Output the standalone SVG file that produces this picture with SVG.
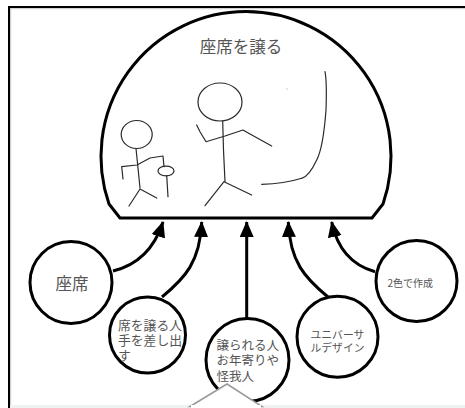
<svg xmlns="http://www.w3.org/2000/svg" width="465" height="408" viewBox="0 0 465 408">
  <style>
    .bold { fill: #fff; stroke: #000; stroke-width: 3; }
    .sketch { fill: none; stroke: #2a2a2a; stroke-width: 1.2; stroke-linecap: round; stroke-linejoin: round; }
    .edge { fill: none; stroke: #000; stroke-width: 3; }
    .lbl { font-family: "Noto Sans CJK JP", "Noto Sans", sans-serif; fill: #555; dominant-baseline: central; }
  </style>
  <defs>
    <marker id="ah" markerUnits="userSpaceOnUse" markerWidth="18" markerHeight="16" refX="15" refY="7" orient="auto">
      <path d="M0,0 L16,7 L0,14 Z" fill="#000"/>
    </marker>
  </defs>

  <rect width="465" height="408" fill="#fff"/>

  <!-- outer frame -->
  <g id="frame">
    <line x1="10.5" y1="8.7" x2="465" y2="8.7" stroke="#c8c8c8" stroke-width="1"/>
    <line x1="10.7" y1="8" x2="10.7" y2="408" stroke="#c8c8c8" stroke-width="1"/>
    <line x1="8" y1="7" x2="465" y2="7" stroke="#000" stroke-width="2"/>
    <line x1="9" y1="6" x2="9" y2="408" stroke="#000" stroke-width="2"/>
  </g>

  <!-- main dome with the sketch -->
  <g id="dome">
    <path class="bold" d="M120,218 L109,204 A145 145 0 1 1 383,204 L372,218 Z"/>
    <text class="lbl" x="241" y="46" font-size="16.5" text-anchor="middle">座席を譲る</text>
    <!-- standing figure -->
    <ellipse class="sketch" cx="220" cy="102" rx="22" ry="19"/>
    <path class="sketch" d="M222.7,121 L223.5,150 L225,181.7"/>
    <path class="sketch" d="M196.7,125 L200,131.7 L206,141.7 L225,136 L243,130 L250,134 L271.7,146"/>
    <path class="sketch" d="M205,205.7 L224,181.7 L251.7,195"/>
    <!-- small figure -->
    <ellipse class="sketch" cx="136.7" cy="134.5" rx="15.5" ry="14"/>
    <path class="sketch" d="M136,148.5 L138,168 L140,188"/>
    <path class="sketch" d="M123,179 L121.7,166.7 L137,165 L150,158 L163,156 L164,166.7"/>
    <ellipse class="sketch" cx="166" cy="171" rx="8" ry="4.8"/>
    <path class="sketch" d="M166.7,175.5 L168,196.7"/>
    <path class="sketch" d="M129,206 L140,189 L156.7,198"/>
    <!-- seat line -->
    <path class="sketch" d="M325,71.7 C327,82 326.5,95 326,110 C324.5,130 322,150 316.7,160 C312,170 307,177 301.7,178.3 C290,182 275,184 261.7,184.3"/>
    <circle cx="287" cy="89" r="0.7" fill="#bbb"/>
  </g>

  <!-- connectors -->
  <g id="connectors">
    <path class="edge" marker-end="url(#ah)" d="M113,271 Q150,262 163,222"/>
    <path class="edge" marker-end="url(#ah)" d="M162,297 C185,278 200,262 201.7,222"/>
    <path class="edge" marker-end="url(#ah)" d="M246.7,318 L246.7,222"/>
    <path class="edge" marker-end="url(#ah)" d="M328,297 C305,278 290,262 288.3,222"/>
    <path class="edge" marker-end="url(#ah)" d="M375,271.7 Q340,262 331.7,222"/>
  </g>

  <g id="node-seat">
    <circle class="bold" cx="71" cy="282.5" r="41"/>
    <text class="lbl" x="72" y="283.3" font-size="16.5" text-anchor="middle">座席</text>
  </g>

  <g id="node-giver">
    <circle class="bold" cx="147.5" cy="335" r="38"/>
    <text class="lbl" font-size="12.8">
      <tspan x="118" y="324">席を譲る人</tspan>
      <tspan x="118" y="339">手を差し出</tspan>
      <tspan x="118" y="353.5">す</tspan>
    </text>
  </g>

  <g id="node-receiver">
    <circle class="bold" cx="247.5" cy="360" r="41.5"/>
    <text class="lbl" font-size="12.5">
      <tspan x="216.5" y="343.5">譲られる人</tspan>
      <tspan x="216.5" y="359.3">お年寄りや</tspan>
      <tspan x="216.5" y="375">怪我人</tspan>
    </text>
  </g>

  <g id="node-universal">
    <circle class="bold" cx="337.5" cy="336.7" r="40.5"/>
    <text class="lbl" font-size="10.8">
      <tspan x="310.5" y="333.5">ユニバーサ</tspan>
      <tspan x="310.5" y="346.7">ルデザイン</tspan>
    </text>
  </g>

  <g id="node-colors">
    <circle class="bold" cx="416.5" cy="281" r="40.5"/>
    <text class="lbl" x="387.5" y="282.3" font-size="10">2色で作成</text>
  </g>

  <!-- popup edge at the bottom -->
  <g id="popup">
    <rect x="10" y="405" width="455" height="3" fill="#eef2f1"/>
    <polygon points="190,406.5 227,384 262,406.5" fill="#fff" stroke="#9a9a9a" stroke-width="1.5"/>
    <rect x="191" y="405" width="70" height="3" fill="#fff"/>
  </g>
</svg>
